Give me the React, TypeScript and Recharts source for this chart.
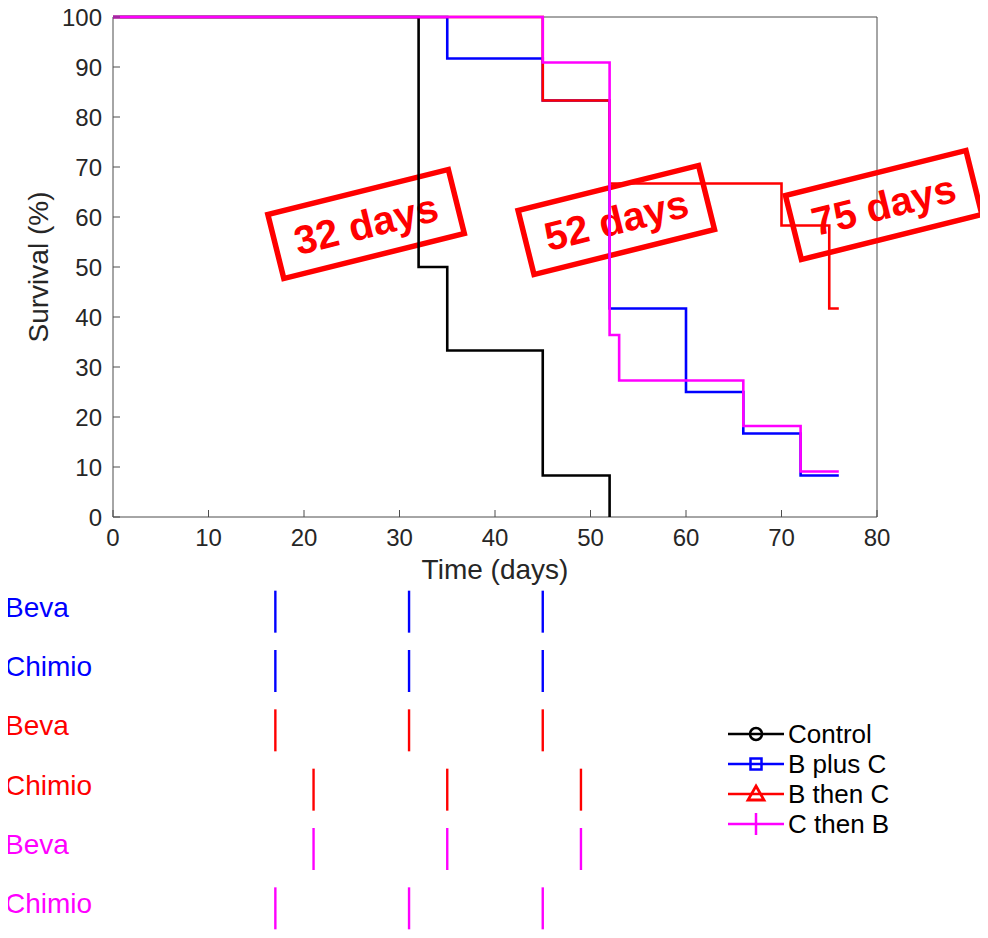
import * as React from "react"
import { LineChart, Line, XAxis, YAxis, Legend, ReferenceDot, ScatterChart, Scatter } from "recharts"

const FONT = "'Liberation Sans', Arial, Helvetica, sans-serif"
const INK = "#262626"
const AXIS = "#4d4d4d"

// survival curves (Kaplan-Meier steps)
const seriesNames = ["Control", "B plus C", "B then C", "C then B"]
const seriesColors = ["#000000", "#0000ff", "#ff0000", "#ff00ff"]
const controlDays = [0, 32, 35, 45, 52]
const controlSurv = [100, 50, 33.3, 8.3, 0]
const bPlusCDays = [0, 35, 45, 52, 60, 66, 72, 76]
const bPlusCSurv = [100, 91.7, 83.3, 41.7, 25, 16.7, 8.3, 8.3]
const bThenCDays = [0, 45, 52, 70, 75, 76]
const bThenCSurv = [100, 83.3, 66.7, 58.3, 41.7, 41.7]
const cThenBDays = [0, 45, 52, 53, 66, 72, 76]
const cThenBSurv = [100, 90.9, 36.4, 27.3, 18.2, 9.1, 9.1]

const xTicks = [0, 10, 20, 30, 40, 50, 60, 70, 80]
const yTicks = [0, 10, 20, 30, 40, 50, 60, 70, 80, 90, 100]

// median survival stamps
const medianLabels = ["32 days", "52 days", "75 days"]
const medianAnchorDay = [26.5, 52.7, 80.7]
const medianAnchorSurv = [58.6, 59.4, 62.4]

// treatment schedule
const rowDrugs = ["Beva", "Chimio", "Beva", "Chimio", "Beva", "Chimio"]
const rowArms = ["B plus C", "B plus C", "B then C", "B then C", "C then B", "C then B"]
const rowDoseDays = [
  [17, 31, 45],
  [17, 31, 45],
  [17, 31, 45],
  [21, 35, 49],
  [21, 35, 49],
  [17, 31, 45],
]

const toPoints = (days: number[], surv: number[]) => days.map((t, i) => ({ t, s: surv[i] }))
const curves = [
  toPoints(controlDays, controlSurv),
  toPoints(bPlusCDays, bPlusCSurv),
  toPoints(bThenCDays, bThenCSurv),
  toPoints(cThenBDays, cThenBSurv),
]

const armColor = (arm: string) => seriesColors[seriesNames.indexOf(arm)]
const rowKeys = rowArms.map((a, i) => `${a}|${rowDrugs[i]}`)
const scheduleData = rowKeys.map((key, i) => rowDoseDays[i].map((day) => ({ day, row: key })))

const BottomTick = (props: any) => {
  const { x, y, payload } = props
  return (
    <g>
      <line x1={x} x2={x} y1={y} y2={y - 7} stroke={AXIS} />
      <text x={x} y={y + 29} textAnchor="middle" fontSize={24} fill={INK} fontFamily={FONT}>
        {payload.value}
      </text>
    </g>
  )
}
const TopTick = (props: any) => <line x1={props.x} x2={props.x} y1={props.y} y2={props.y + 7} stroke={AXIS} />
const LeftTick = (props: any) => {
  const { x, y, payload } = props
  return (
    <g>
      <line x1={x} x2={x + 7} y1={y} y2={y} stroke={AXIS} />
      <text x={x - 11} y={y + 8.5} textAnchor="end" fontSize={24} fill={INK} fontFamily={FONT}>
        {payload.value}
      </text>
    </g>
  )
}
const RightTick = (props: any) => <line x1={props.x} x2={props.x - 7} y1={props.y} y2={props.y} stroke={AXIS} />

const stamp = (label: string) => (props: any) => {
  const { cx, cy } = props
  return (
    <g transform={`rotate(-14 ${cx} ${cy})`}>
      <rect x={cx - 93} y={cy - 33} width={186} height={66} fill="none" stroke="#ff0000" strokeWidth={5.5} />
      <text x={cx} y={cy + 14} textAnchor="middle" fontSize={40} fontWeight="bold" fill="#ff0000" fontFamily={FONT}>
        {label}
      </text>
    </g>
  )
}

const Marker = ({ name, color }: { name: string; color: string }) => {
  const c = 29
  if (name === "Control") return <circle cx={c} cy={15} r={6} fill="none" stroke={color} strokeWidth={2.5} />
  if (name === "B plus C") return <rect x={c - 5.5} y={9.5} width={11} height={11} fill="none" stroke={color} strokeWidth={2.5} />
  if (name === "B then C") return <polygon points={`${c},7 ${c + 8},21 ${c - 8},21`} fill="none" stroke={color} strokeWidth={2.8} />
  return <line x1={c} x2={c} y1={4} y2={26} stroke={color} strokeWidth={2.5} />
}

const LegendBox = () => (
  <div style={{ fontFamily: FONT, fontSize: 26, color: "#000", lineHeight: "30px" }}>
    {seriesNames.map((name, i) => (
      <div key={name} style={{ display: "flex", alignItems: "center", height: 30 }}>
        <svg width={58} height={30}>
          <line x1={1} x2={57} y1={15} y2={15} stroke={seriesColors[i]} strokeWidth={2.5} />
          <Marker name={name} color={seriesColors[i]} />
        </svg>
        <span style={{ marginLeft: 3 }}>{name}</span>
      </div>
    ))}
  </div>
)

const RowLabel = (props: any) => {
  const { y, payload } = props
  const i = rowKeys.indexOf(payload.value)
  return (
    <text x={5} y={y + 5} textAnchor="start" fontSize={28} fill={armColor(rowArms[i])} fontFamily={FONT}>
      {rowDrugs[i]}
    </text>
  )
}

const doseMark = (color: string) => (props: any) => (
  <line x1={props.cx} x2={props.cx} y1={props.cy - 21} y2={props.cy + 21} stroke={color} strokeWidth={2.4} />
)

export default function App() {
  return (
    <div style={{ position: "relative", left: -8, top: -8, width: 988, height: 938, background: "#fff" }}>
      <div style={{ position: "absolute", left: 0, top: 0 }}>
        <LineChart width={988} height={600} margin={{ top: 16, right: 101, bottom: 3, left: 0 }}>
          <XAxis
            dataKey="t"
            type="number"
            domain={[0, 80]}
            ticks={xTicks}
            height={80}
            tickSize={0}
            tickMargin={0}
            tick={<BottomTick />}
            axisLine={{ stroke: AXIS }}
            label={{ value: "Time (days)", position: "insideBottom", offset: 18, fontSize: 28, fill: INK, fontFamily: FONT }}
          />
          <XAxis
            xAxisId="top"
            orientation="top"
            type="number"
            domain={[0, 80]}
            ticks={xTicks}
            height={1}
            tickSize={0}
            tickMargin={0}
            tick={<TopTick />}
            axisLine={{ stroke: AXIS }}
          />
          <YAxis
            type="number"
            domain={[0, 100]}
            ticks={yTicks}
            width={113}
            tickSize={0}
            tickMargin={0}
            tick={<LeftTick />}
            axisLine={{ stroke: AXIS }}
            label={{
              value: "Survival (%)",
              angle: -90,
              position: "insideLeft",
              offset: 38,
              fontSize: 28,
              fill: INK,
              fontFamily: FONT,
              style: { textAnchor: "middle" },
            }}
          />
          <YAxis
            yAxisId="right"
            orientation="right"
            type="number"
            domain={[0, 100]}
            ticks={yTicks}
            width={10}
            tickSize={0}
            tickMargin={0}
            tick={<RightTick />}
            axisLine={{ stroke: AXIS }}
          />
          {medianLabels.map((label, i) => (
            <ReferenceDot
              key={label}
              x={medianAnchorDay[i]}
              y={medianAnchorSurv[i]}
              r={1}
              ifOverflow="visible"
              shape={stamp(label)}
            />
          ))}
          {curves.map((data, i) => (
            <Line
              key={seriesNames[i]}
              data={data}
              dataKey="s"
              name={seriesNames[i]}
              type="stepAfter"
              stroke={seriesColors[i]}
              strokeWidth={2.6}
              dot={false}
              activeDot={false}
              isAnimationActive={false}
              {...({ zIndex: 600 } as any)}
            />
          ))}
          <Legend
            layout="vertical"
            align="center"
            verticalAlign="middle"
            content={<LegendBox />}
            wrapperStyle={{ top: 719, left: 727, width: "auto", height: "auto" }}
          />
        </LineChart>
      </div>
      <div style={{ position: "absolute", left: 0, top: 580 }}>
        <ScatterChart width={988} height={358} margin={{ top: 2, right: 111, bottom: 0, left: 0 }}>
          <XAxis dataKey="day" type="number" domain={[0, 80]} hide />
          <YAxis
            dataKey="row"
            type="category"
            allowDuplicatedCategory={false}
            width={113}
            axisLine={false}
            tickLine={false}
            tick={<RowLabel />}
            reversed
          />
          {scheduleData.map((data, i) => (
            <Scatter
              key={rowKeys[i]}
              data={data}
              dataKey="day"
              shape={doseMark(armColor(rowArms[i]))}
              isAnimationActive={false}
            />
          ))}
        </ScatterChart>
      </div>
    </div>
  )
}
